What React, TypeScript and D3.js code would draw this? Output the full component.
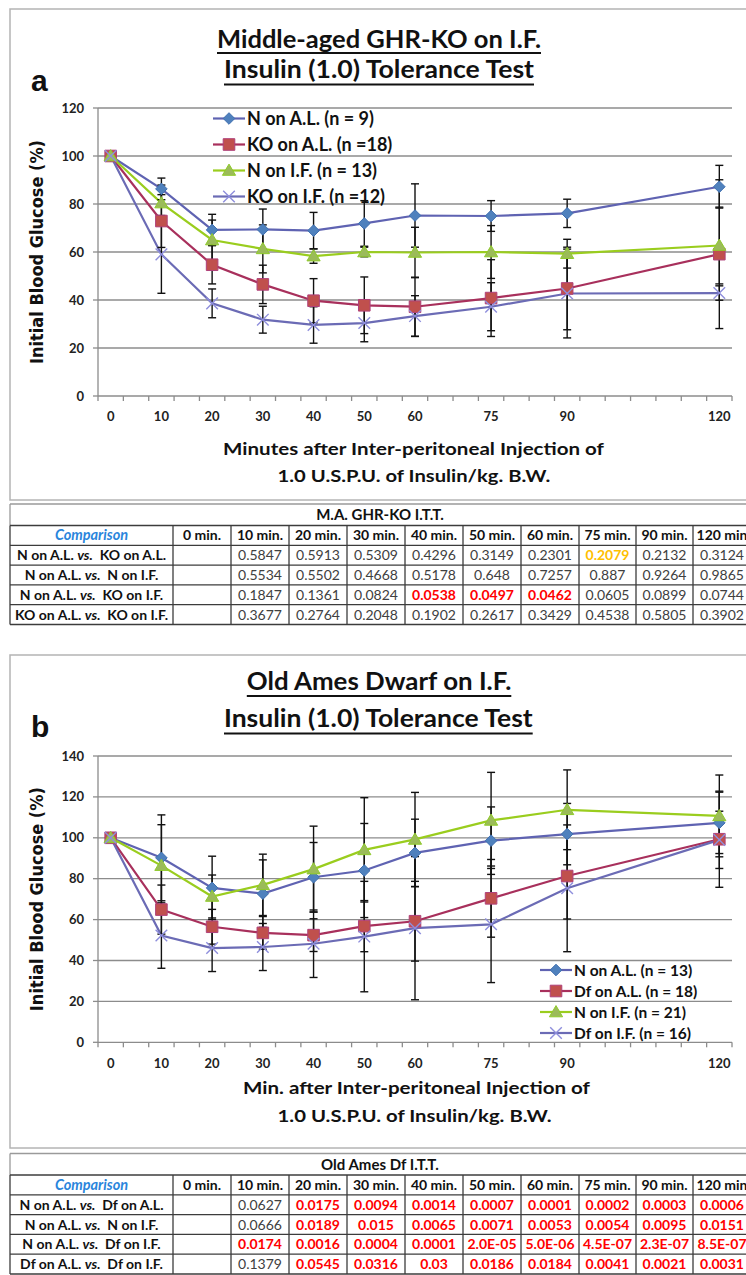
import React from 'react';
import * as d3 from 'd3';

// Sampling times (minutes after injection)
const MINUTES = [0, 10, 20, 30, 40, 50, 60, 75, 90, 120];
const X_TICK_MINUTES = MINUTES;

// Panel a: middle-aged GHR-KO mice, % of initial blood glucose (mean and SE)
const GHR_N_AL = [100, 86.3, 69.2, 69.4, 68.9, 71.9, 75.2, 75.0, 76.1, 87.2];
const GHR_N_AL_ERR = [0, 4.5, 6.5, 8.5, 7.6, 9.5, 13.2, 6.4, 5.9, 8.9];
const GHR_KO_AL = [100, 72.9, 54.7, 46.5, 39.7, 37.8, 37.2, 40.8, 44.8, 59.1];
const GHR_KO_AL_ERR = [0, 11, 8, 8, 9.2, 11.8, 12.3, 16, 17.2, 31];
const GHR_N_IF = [100, 80.4, 65.0, 61.3, 58.3, 60.0, 59.8, 60.0, 59.3, 62.7];
const GHR_N_IF_ERR = [0, 7.5, 8.3, 10, 3, 2, 10.5, 11, 6, 16];
const GHR_KO_IF = [100, 59.0, 38.6, 31.8, 29.6, 30.4, 33.3, 37.2, 42.7, 42.9];
const GHR_KO_IF_ERR = [0, 16.2, 6, 5.6, 7.6, 7.8, 8.5, 10, 18.5, 3];
const GHR_LEGEND = ['N on A.L. (n = 9)', 'KO on A.L. (n =18)', 'N on I.F. (n = 13)', 'KO on I.F. (n =12)'];

// Panel b: old Ames dwarf mice
const AMES_N_AL = [100, 90.2, 75.5, 72.7, 80.7, 84.0, 92.6, 98.6, 101.8, 107.3];
const AMES_N_AL_ERR = [0, 21, 15.5, 16.5, 17, 23, 16.5, 16.5, 15, 15];
const AMES_DF_AL = [100, 64.9, 56.5, 53.5, 52.4, 56.8, 59.2, 70.4, 81.3, 99.3];
const AMES_DF_AL_ERR = [0, 12, 8.5, 8, 8, 12.5, 19.5, 19, 21, 23.5];
const AMES_N_IF = [100, 86.4, 71.3, 77.0, 84.7, 94.1, 99.2, 108.5, 113.7, 110.7];
const AMES_N_IF_ERR = [0, 20, 10.5, 15, 21, 25.5, 23, 23.5, 19.5, 20];
const AMES_DF_IF = [100, 52.2, 46.1, 46.6, 48.2, 51.7, 55.8, 57.7, 75.3, 99.0];
const AMES_DF_IF_ERR = [0, 16, 11.5, 11.5, 16.5, 27, 35, 28.5, 31, 14];
const AMES_LEGEND = ['N on A.L. (n = 13)', 'Df on A.L. (n = 18)', 'N on I.F. (n = 21)', 'Df on I.F. (n = 16)'];

// p-value tables
const TABLE_COLUMNS = ['0 min.', '10 min.', '20 min.', '30 min.', '40 min.', '50 min.', '60 min.', '75 min.', '90 min.', '120 min'];

const GHR_TABLE_TITLE = 'M.A. GHR-KO I.T.T.';
const GHR_COMPARISONS = [
  ['N on A.L.', 'KO on A.L.'],
  ['N on A.L.', 'N on I.F.'],
  ['N on A.L.', 'KO on I.F.'],
  ['KO on A.L.', 'KO on I.F.'],
];
const GHR_PVALUES = [
  ['', '0.5847', '0.5913', '0.5309', '0.4296', '0.3149', '0.2301', '0.2079', '0.2132', '0.3124'],
  ['', '0.5534', '0.5502', '0.4668', '0.5178', '0.648', '0.7257', '0.887', '0.9264', '0.9865'],
  ['', '0.1847', '0.1361', '0.0824', '0.0538', '0.0497', '0.0462', '0.0605', '0.0899', '0.0744'],
  ['', '0.3677', '0.2764', '0.2048', '0.1902', '0.2617', '0.3429', '0.4538', '0.5805', '0.3902'],
];
// n = plain, r = significant (red), o = borderline (amber)
const GHR_MARKS = [
  'nnnnnnnonn',
  'nnnnnnnnnn',
  'nnnnrrrnnn',
  'nnnnnnnnnn',
];

const AMES_TABLE_TITLE = 'Old Ames Df I.T.T.';
const AMES_COMPARISONS = [
  ['N on A.L.', 'Df on A.L.'],
  ['N on A.L.', 'N on I.F.'],
  ['N on A.L.', 'Df on I.F.'],
  ['Df on A.L.', 'Df on I.F.'],
];
const AMES_PVALUES = [
  ['', '0.0627', '0.0175', '0.0094', '0.0014', '0.0007', '0.0001', '0.0002', '0.0003', '0.0006'],
  ['', '0.0666', '0.0189', '0.015', '0.0065', '0.0071', '0.0053', '0.0054', '0.0095', '0.0151'],
  ['', '0.0174', '0.0016', '0.0004', '0.0001', '2.0E-05', '5.0E-06', '4.5E-07', '2.3E-07', '8.5E-07'],
  ['', '0.1379', '0.0545', '0.0316', '0.03', '0.0186', '0.0184', '0.0041', '0.0021', '0.0031'],
];
const AMES_MARKS = [
  'nnrrrrrrrr',
  'nnrrrrrrrr',
  'nrrrrrrrrr',
  'nnrrrrrrrr',
];

const CAL = 'Lato, "Open Sans", sans-serif';

type Shape = 'diamond' | 'square' | 'triangle' | 'cross';
const STYLES: { line: string; fill: string; stroke: string; shape: Shape }[] = [
  { line: '#5F63B2', fill: '#4F81BD', stroke: '#3F6FB0', shape: 'diamond' },
  { line: '#A8305C', fill: '#C0504D', stroke: '#B0407A', shape: 'square' },
  { line: '#9ACD1E', fill: '#9BBB59', stroke: '#8FCB2A', shape: 'triangle' },
  { line: '#6B6BB5', fill: 'none', stroke: '#8E8EDC', shape: 'cross' },
];

function markerPath(shape: Shape): string {
  switch (shape) {
    case 'diamond':
      return 'M0,-5.8L5.8,0L0,5.8L-5.8,0Z';
    case 'square':
      return 'M-5.8,-5.8H5.8V5.8H-5.8Z';
    case 'triangle':
      return 'M0,-6.4L6.6,4.8L-6.6,4.8Z';
    default:
      return 'M-5.8,-5.8L5.8,5.8M-5.8,5.8L5.8,-5.8';
  }
}

function Marker({ shape, x, y }: { shape: Shape; x: number; y: number }) {
  const st = STYLES.find((s) => s.shape === shape)!;
  return (
    <path
      d={markerPath(shape)}
      transform={`translate(${x},${y})`}
      fill={st.fill}
      stroke={st.stroke}
      strokeWidth={shape === 'cross' ? 1.4 : 1}
    />
  );
}

interface PanelCfg {
  frameTop: number;
  frameBottom: number;
  letter: string;
  letterY: number;
  title: string[];
  titleY: number[];
  underlineY: number[];
  titleSpan: number[][];
  yMax: number;
  plotTop: number;
  plotBottom: number;
  xLabelY: number;
  xTitle: string[];
  xTitleY: number[];
  xTitleSpan: number[][];
  means: number[][];
  errs: number[][];
  legend: string[];
  legendX: number;
  legendY0: number;
  legendDy: number;
  legendFont: number;
}

function Panel({ cfg }: { cfg: PanelCfg }) {
  const x = d3.scaleLinear().domain([-2.5, 122.5]).range([98, 732]);
  const y = d3.scaleLinear().domain([0, cfg.yMax]).range([cfg.plotBottom, cfg.plotTop]);
  const gridVals = d3.range(20, cfg.yMax + 1, 20);
  const yTicks = d3.range(0, cfg.yMax + 1, 20);
  const minorTicks = d3.range(-2.5, 123, 5);
  const line = d3
    .line<number>()
    .x((_, i) => x(MINUTES[i]))
    .y((d) => y(d));
  const yMid = (cfg.plotTop + cfg.plotBottom) / 2;

  return (
    <g>
      <rect x={10} y={cfg.frameTop} width={780} height={cfg.frameBottom - cfg.frameTop} fill="#fff" stroke="#B4B4B4" strokeWidth={1.5} />
      <text x={31} y={cfg.letterY} fontFamily="'Liberation Sans', Arial, sans-serif" fontWeight="bold" fontSize={30} fill="#111">
        {cfg.letter}
      </text>
      {cfg.title.map((t, i) => (
        <g key={t}>
          <text
            x={cfg.titleSpan[i][0]}
            y={cfg.titleY[i]}
            fontFamily={CAL}
            fontWeight="bold"
            fontSize={25}
            fill="#111"
            textLength={cfg.titleSpan[i][1] - cfg.titleSpan[i][0]}
            lengthAdjust="spacingAndGlyphs"
          >
            {t}
          </text>
          <line x1={cfg.titleSpan[i][0]} x2={cfg.titleSpan[i][1]} y1={cfg.underlineY[i]} y2={cfg.underlineY[i]} stroke="#111" strokeWidth={1.8} />
        </g>
      ))}

      {/* gridlines */}
      {gridVals.map((v) => (
        <line key={v} x1={x(-2.5)} x2={x(122.5)} y1={y(v)} y2={y(v)} stroke="#8C8C8C" strokeWidth={1.3} />
      ))}
      {/* axes */}
      <line x1={x(-2.5)} x2={x(-2.5)} y1={y(cfg.yMax)} y2={y(0)} stroke="#8C8C8C" strokeWidth={1.3} />
      <line x1={x(-2.5)} x2={x(122.5)} y1={y(0)} y2={y(0)} stroke="#8C8C8C" strokeWidth={1.3} />
      {yTicks.map((v) => (
        <g key={v}>
          <line x1={x(-2.5) - 5} x2={x(-2.5)} y1={y(v)} y2={y(v)} stroke="#8C8C8C" strokeWidth={1.3} />
          <text x={84} y={y(v) + 4.5} textAnchor="end" fontFamily={CAL} fontWeight="bold" fontSize={13} fill="#222">
            {v}
          </text>
        </g>
      ))}
      {minorTicks.map((m) => (
        <line key={m} x1={x(m)} x2={x(m)} y1={y(0)} y2={y(0) + 5} stroke="#8C8C8C" strokeWidth={1.3} />
      ))}
      {X_TICK_MINUTES.map((m) => (
        <text key={m} x={x(m)} y={cfg.xLabelY} textAnchor="middle" fontFamily={CAL} fontWeight="bold" fontSize={13} fill="#222">
          {m}
        </text>
      ))}
      {cfg.xTitle.map((t, i) => (
        <text
          key={t}
          x={cfg.xTitleSpan[i][0]}
          y={cfg.xTitleY[i]}
          fontFamily={CAL}
          fontWeight="bold"
          fontSize={17.5}
          fill="#111"
          textLength={cfg.xTitleSpan[i][1] - cfg.xTitleSpan[i][0]}
          lengthAdjust="spacingAndGlyphs"
        >
          {t}
        </text>
      ))}
      <text
        transform={`translate(43,${yMid + 112}) rotate(-90)`}
        fontFamily="'DejaVu Sans', Verdana, sans-serif"
        fontWeight="bold"
        fontSize={17}
        fill="#111"
        textLength={224}
        lengthAdjust="spacingAndGlyphs"
      >
        Initial Blood Glucose (%)
      </text>

      {/* series lines */}
      {cfg.means.map((m, si) => (
        <path key={si} d={line(m) || ''} fill="none" stroke={STYLES[si].line} strokeWidth={2.2} />
      ))}
      {/* error bars */}
      {cfg.means.map((m, si) =>
        m.map((v, i) => {
          const e = cfg.errs[si][i];
          if (!e) return null;
          const cx = x(MINUTES[i]);
          return (
            <g key={`${si}-${i}`} stroke="#111" strokeWidth={1.4}>
              <line x1={cx} x2={cx} y1={y(v - e)} y2={y(v + e)} />
              <line x1={cx - 4} x2={cx + 4} y1={y(v - e)} y2={y(v - e)} />
              <line x1={cx - 4} x2={cx + 4} y1={y(v + e)} y2={y(v + e)} />
            </g>
          );
        })
      )}
      {/* markers */}
      {cfg.means.map((m, si) =>
        m.map((v, i) => <Marker key={`${si}-${i}`} shape={STYLES[si].shape} x={x(MINUTES[i])} y={y(v)} />)
      )}

      {/* legend */}
      {cfg.legend.map((label, i) => {
        const ly = cfg.legendY0 + i * cfg.legendDy;
        return (
          <g key={label}>
            <line x1={cfg.legendX} x2={cfg.legendX + 32} y1={ly} y2={ly} stroke={STYLES[i].line} strokeWidth={2.2} />
            <Marker shape={STYLES[i].shape} x={cfg.legendX + 16} y={ly} />
            <text x={cfg.legendX + 34} y={ly + cfg.legendFont * 0.36} fontFamily={CAL} fontWeight="bold" fontSize={cfg.legendFont} fill="#111">
              {label}
            </text>
          </g>
        );
      })}
    </g>
  );
}

const COL_EDGES = [10, 173, 231, 289, 347, 405, 463, 521, 579, 636, 693, 751];

function PTable({
  top,
  title,
  comparisons,
  values,
  marks,
}: {
  top: number;
  title: string;
  comparisons: string[][];
  values: string[][];
  marks: string[];
}) {
  const titleH = 21.5;
  const rowH = 19.8;
  const gridTop = top + titleH;
  const nRows = comparisons.length + 1;
  const gridBottom = gridTop + nRows * rowH;
  const center = (c: number) => (COL_EDGES[c] + COL_EDGES[c + 1]) / 2;
  const rowMid = (r: number) => gridTop + r * rowH + rowH / 2 + 5;
  const colorOf = (m: string) => (m === 'r' ? '#FF0000' : m === 'o' ? '#FFC000' : '#404040');

  return (
    <g>
      <line x1={10} x2={760} y1={top} y2={top} stroke="#9A9A9A" strokeWidth={1.3} />
      <line x1={10} x2={10} y1={top} y2={gridTop} stroke="#9A9A9A" strokeWidth={1.3} />
      <text x={380} y={top + titleH / 2 + 5.5} textAnchor="middle" fontFamily={CAL} fontWeight="bold" fontSize={15} fill="#111">
        {title}
      </text>
      {d3.range(nRows + 1).map((r) => (
        <line key={r} x1={10} x2={760} y1={gridTop + r * rowH} y2={gridTop + r * rowH} stroke="#3C3C3C" strokeWidth={1.3} />
      ))}
      {COL_EDGES.map((cx, i) => (
        <line key={i} x1={cx} x2={cx} y1={gridTop} y2={gridBottom} stroke="#3C3C3C" strokeWidth={1.3} />
      ))}
      <text x={center(0)} y={rowMid(0)} textAnchor="middle" fontFamily={CAL} fontWeight="bold" fontStyle="italic" fontSize={14.5} fill="#2A85DC">
        Comparison
      </text>
      {TABLE_COLUMNS.map((c, i) => (
        <text key={c} x={center(i + 1)} y={rowMid(0)} textAnchor="middle" fontFamily={CAL} fontWeight="bold" fontSize={14} fill="#111">
          {c}
        </text>
      ))}
      {comparisons.map((pair, r) => (
        <g key={r}>
          <text x={center(0)} y={rowMid(r + 1)} textAnchor="middle" fontFamily={CAL} fontWeight="bold" fontSize={14} fill="#111">
            {pair[0]} <tspan fontStyle="italic">vs.</tspan> {'\u00a0'}
            {pair[1]}
          </text>
          {values[r].map((v, c) =>
            v ? (
              <text
                key={c}
                x={center(c + 1)}
                y={rowMid(r + 1)}
                textAnchor="middle"
                fontFamily={CAL}
                fontWeight={marks[r][c] === 'n' ? 'normal' : 'bold'}
                fontSize={14}
                fill={colorOf(marks[r][c])}
              >
                {v}
              </text>
            ) : null
          )}
        </g>
      ))}
    </g>
  );
}

const PANEL_A: PanelCfg = {
  frameTop: 9,
  frameBottom: 500,
  letter: 'a',
  letterY: 90.5,
  title: ['Middle-aged GHR-KO on I.F.', 'Insulin (1.0) Tolerance Test'],
  titleY: [48, 78],
  underlineY: [53, 84.5],
  titleSpan: [
    [217, 541],
    [224, 534],
  ],
  yMax: 120,
  plotTop: 108,
  plotBottom: 396,
  xLabelY: 421,
  xTitle: ['Minutes after Inter-peritoneal Injection of', '1.0 U.S.P.U. of Insulin/kg. B.W.'],
  xTitleY: [455, 482],
  xTitleSpan: [
    [223, 604],
    [277.6, 550.3],
  ],
  means: [GHR_N_AL, GHR_KO_AL, GHR_N_IF, GHR_KO_IF],
  errs: [GHR_N_AL_ERR, GHR_KO_AL_ERR, GHR_N_IF_ERR, GHR_KO_IF_ERR],
  legend: GHR_LEGEND,
  legendX: 213,
  legendY0: 118.5,
  legendDy: 26,
  legendFont: 18,
};

const PANEL_B: PanelCfg = {
  frameTop: 655,
  frameBottom: 1148,
  letter: 'b',
  letterY: 737,
  title: ['Old Ames Dwarf on I.F.', 'Insulin (1.0) Tolerance Test'],
  titleY: [690, 727],
  underlineY: [696, 733.5],
  titleSpan: [
    [246.8, 511.3],
    [224, 532.7],
  ],
  yMax: 140,
  plotTop: 756,
  plotBottom: 1042.3,
  xLabelY: 1067.5,
  xTitle: ['Min. after Inter-peritoneal Injection of', '1.0 U.S.P.U. of Insulin/kg. B.W.'],
  xTitleY: [1094, 1122],
  xTitleSpan: [
    [243, 590],
    [277.6, 551.7],
  ],
  means: [AMES_N_AL, AMES_DF_AL, AMES_N_IF, AMES_DF_IF],
  errs: [AMES_N_AL_ERR, AMES_DF_AL_ERR, AMES_N_IF_ERR, AMES_DF_IF_ERR],
  legend: AMES_LEGEND,
  legendX: 540,
  legendY0: 970,
  legendDy: 21,
  legendFont: 15.5,
};

export default function App() {
  return (
    <svg
      width={746}
      height={1275}
      viewBox="0 0 746 1275"
      style={{ position: 'absolute', left: 0, top: 0, background: '#fff' }}
    >
      <rect width={746} height={1275} fill="#fff" />
      <Panel cfg={PANEL_A} />
      <PTable top={504} title={GHR_TABLE_TITLE} comparisons={GHR_COMPARISONS} values={GHR_PVALUES} marks={GHR_MARKS} />
      <Panel cfg={PANEL_B} />
      <PTable top={1153.5} title={AMES_TABLE_TITLE} comparisons={AMES_COMPARISONS} values={AMES_PVALUES} marks={AMES_MARKS} />
    </svg>
  );
}
